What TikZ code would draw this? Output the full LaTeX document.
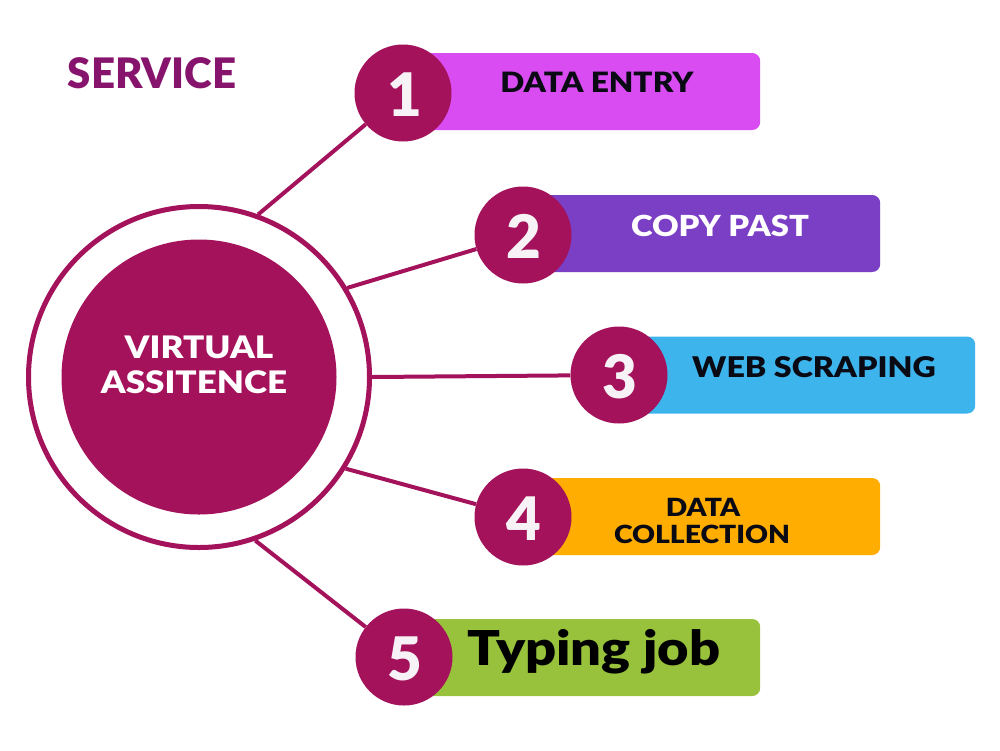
\documentclass[tikz,border=0pt]{standalone}
\usepackage{fontspec}
\newfontfamily\blk{Lato Black}
\newfontfamily\blkw{Lato Black}[FakeStretch=1.13]
\definecolor{maroon}{HTML}{A3125A}
\definecolor{svc}{HTML}{86146C}
\definecolor{barA}{HTML}{D94CF2}
\definecolor{barB}{HTML}{7B3FC6}
\definecolor{barC}{HTML}{3DB4EC}
\definecolor{barD}{HTML}{FFAD00}
\definecolor{barE}{HTML}{98C23C}
\definecolor{ink}{HTML}{0A0A14}
\definecolor{numw}{HTML}{F7F2F6}
\begin{document}
\begin{tikzpicture}[x=1pt,y=-1pt,
  numc/.style={circle,fill=maroon,minimum size=97pt,inner sep=0pt},
  barbox/.style={rounded corners=8pt,minimum height=77pt,anchor=west,inner sep=0pt},
  conn/.style={draw=maroon,line width=4pt},
  numtxt/.style={anchor=base,text=numw,font=\blk\fontsize{60}{60}\selectfont,inner sep=0pt},
  lbl/.style={anchor=base,text=ink,inner sep=0pt,align=center},
  wlbl/.style={anchor=base,text=white,inner sep=0pt,font=\blkw\fontsize{31}{31}\selectfont}]
\useasboundingbox (0,0) rectangle (1000,750);
\fill[white] (0,0) rectangle (1000,750);
% bars
\node[barbox,fill=barA,minimum width=356pt] (b1) at (404,91.5) {};
\node[barbox,fill=barB,minimum width=357pt] (b2) at (523,233.5) {};
\node[barbox,fill=barC,minimum width=356pt] (b3) at (619,375) {};
\node[barbox,fill=barD,minimum width=357pt] (b4) at (523,516.5) {};
\node[barbox,fill=barE,minimum width=356pt] (b5) at (404,657.5) {};
% centre
\node[circle,draw=maroon,line width=5pt,fill=white,minimum size=341pt,inner sep=0pt] (ring) at (199,377) {};
\node[circle,fill=maroon,minimum size=275pt,inner sep=0pt] (core) at (199,377) {};
% numbered circles
\node[numc] (n1) at (403,93) {};
\node[numc] (n2) at (523,235) {};
\node[numc] (n3) at (619,375) {};
\node[numc] (n4) at (523,517) {};
\node[numc] (n5) at (404,657) {};
% connectors
\draw[conn] (ring.70) -- (n1);
\draw[conn] (ring.31) -- (n2);
\draw[conn] (ring.0) -- (n3);
\draw[conn] (ring.-32) -- (n4);
\draw[conn] (ring.-71) -- (n5);
% numbers
\node[numtxt] (t1) at (405,116) {1};
\node[numtxt] (t2) at (524,258) {2};
\node[numtxt] (t3) at (620,398) {3};
\node[numtxt] (t4) at (524,540) {4};
\node[numtxt] (t5) at (405,680) {5};
% texts
\node[anchor=base,text=svc,inner sep=0pt,font=\blk\fontsize{42}{42}\selectfont] (svc) at (152,88) {SERVICE};
\node[wlbl] (va) at (199,358) {VIRTUAL};
\node[wlbl] (vb) at (194,393) {ASSITENCE};
\node[lbl,font=\blkw\fontsize{28}{28}\selectfont] (l1) at (597,92) {DATA ENTRY};
\node[wlbl,font=\blkw\fontsize{29}{29}\selectfont] (l2) at (720,236) {COPY PAST};
\node[lbl,font=\blkw\fontsize{28.5}{28.5}\selectfont] (l3) at (814,377) {WEB SCRAPING};
\node[lbl,font=\blkw\fontsize{25}{25}\selectfont] (l4a) at (703,516) {DATA};
\node[lbl,font=\blkw\fontsize{25}{25}\selectfont] (l4b) at (702,543) {COLLECTION};
\node[lbl,text=black,font=\blkw\fontsize{48}{48}\selectfont] (l5) at (594,665) {Typing job};
\end{tikzpicture}
\end{document}
